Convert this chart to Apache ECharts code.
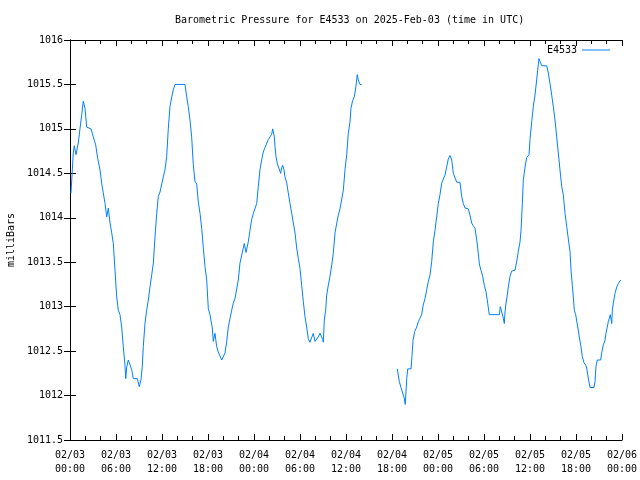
<!DOCTYPE html>
<html>
<head>
<meta charset="utf-8">
<script src="https://cdn.jsdelivr.net/npm/echarts@6/dist/echarts.min.js"></script>
<style>html,body{margin:0;padding:0;background:#fff}#c{width:640px;height:480px}</style>
</head>
<body>
<div id="c"></div>
<script>
// hours after 2025-02-03 00:00 UTC
const hours = [
0.13,0.43,0.56,0.78,1.08,1.30,1.53,1.73,1.96,2.18,2.74,3.04,3.35,3.61,3.91,4.13,4.34,4.57,4.79,5.00,
5.22,5.44,5.65,5.87,6.09,6.30,6.52,6.74,6.95,7.17,7.27,7.40,7.60,7.83,8.05,8.26,8.78,9.04,9.26,9.43,
9.56,9.78,10.00,10.21,10.43,10.66,10.87,11.09,11.31,11.52,11.74,11.96,12.17,12.39,12.61,12.82,13.04,13.27,13.47,13.70,
15.00,15.22,15.43,15.65,15.87,16.08,16.30,16.53,16.73,16.96,17.18,17.39,17.61,17.83,18.04,18.26,18.56,18.69,18.91,19.13,
19.34,19.57,19.79,20.00,20.22,20.44,20.65,20.87,21.09,21.30,21.52,21.74,21.95,22.17,22.40,22.60,22.73,22.96,23.26,23.48,
23.70,23.91,24.13,24.35,24.56,24.78,25.00,25.21,25.43,25.66,25.87,26.09,26.31,26.44,26.52,26.65,26.74,26.87,27.04,27.26,
27.48,27.61,27.74,27.91,28.04,28.27,28.47,28.70,28.92,29.13,29.35,29.57,29.78,30.00,30.22,30.43,30.65,30.87,31.08,31.30,
31.53,31.73,31.96,32.18,32.39,32.61,32.83,32.96,33.04,33.17,33.35,33.48,33.69,33.91,34.14,34.34,34.57,34.79,35.00,35.22,
35.44,35.65,35.87,36.09,36.30,36.52,36.65,36.87,37.08,37.27,37.47,37.60,37.83,38.05,
40.00,
42.69,42.95,43.17,43.40,43.60,43.73,43.92,44.05,44.48,44.61,44.74,44.96,45.22,45.43,45.65,45.87,46.08,46.30,46.53,46.73,
46.96,47.18,47.39,47.61,47.83,48.04,48.26,48.48,48.69,48.91,49.13,49.34,49.57,49.79,50.00,50.22,50.44,50.87,51.09,51.30,
51.52,51.95,52.17,52.40,52.60,52.83,53.05,53.26,53.39,53.61,53.83,54.04,54.26,54.48,54.69,56.00,56.13,56.31,56.52,56.65,
56.74,56.87,57.04,57.17,57.39,57.61,58.04,58.27,58.47,58.70,58.83,59.00,59.13,59.35,59.57,59.87,60.00,60.22,60.43,60.65,
60.87,61.00,61.17,61.30,61.53,62.18,62.39,62.61,62.83,63.04,63.26,63.48,63.69,63.91,64.14,64.34,64.57,64.79,65.00,65.22,
65.35,65.52,65.65,65.78,65.96,66.22,66.43,66.65,66.82,67.04,67.27,67.40,67.53,67.70,67.83,68.35,68.48,68.61,68.78,69.22,
69.35,69.56,69.78,69.91,70.08,70.21,70.34,70.47,70.66,70.74,70.87,71.09,71.31,71.52,71.74,71.87
];
const pressure = [
1014.28,1014.73,1014.81,1014.71,1014.84,1015.00,1015.16,1015.31,1015.23,1015.02,1015.00,1014.91,1014.82,1014.67,1014.54,1014.39,1014.28,1014.16,1014.01,1014.11,
1013.94,1013.83,1013.71,1013.41,1013.11,1012.96,1012.91,1012.77,1012.55,1012.34,1012.19,1012.32,1012.40,1012.38,1012.29,1012.19,1012.19,1012.10,1012.18,1012.33,
1012.55,1012.81,1012.96,1013.07,1013.22,1013.36,1013.49,1013.79,1014.05,1014.24,1014.29,1014.31,1014.46,1014.54,1014.69,1015.00,1015.25,1015.36,1015.44,1015.50,
1015.50,1015.36,1015.25,1015.10,1014.91,1014.60,1014.41,1014.38,1014.18,1014.05,1013.88,1013.66,1013.45,1013.30,1012.98,1012.91,1012.76,1012.61,1012.70,1012.55,
1012.49,1012.48,1012.40,1012.40,1012.48,1012.61,1012.77,1012.87,1012.96,1013.04,1013.09,1013.10,1013.30,1013.49,1013.51,1013.66,1013.71,1013.61,1013.73,1013.86,
1013.98,1014.05,1014.07,1014.16,1014.35,1014.54,1014.65,1014.74,1014.79,1014.81,1014.88,1014.91,1014.94,1015.00,1015.00,1014.91,1014.80,1014.69,1014.61,1014.59,
1014.50,1014.56,1014.59,1014.54,1014.46,1014.39,1014.28,1014.16,1014.05,1013.94,1013.83,1013.66,1013.54,1013.43,1013.24,1013.06,1012.89,1012.77,1012.64,1012.60,
1012.60,1012.70,1012.61,1012.61,1012.66,1012.70,1012.69,1012.63,1012.60,1012.85,1012.96,1013.13,1013.24,1013.34,1013.47,1013.60,1013.83,1013.94,1014.03,1014.10,
1014.10,1014.31,1014.54,1014.71,1014.95,1015.08,1015.23,1015.32,1015.36,1015.46,1015.61,1015.55,1015.50,1015.50,
null,
1012.30,1012.16,1012.09,1012.09,1011.97,1011.90,1012.19,1012.30,1012.30,1012.45,1012.62,1012.72,1012.77,1012.83,1012.87,1012.91,1013.02,1013.09,1013.19,1013.28,
1013.36,1013.51,1013.73,1013.86,1014.01,1014.16,1014.26,1014.39,1014.40,1014.48,1014.57,1014.66,1014.70,1014.65,1014.50,1014.50,1014.40,1014.40,1014.24,1014.16,
1014.11,1014.10,1014.03,1013.94,1013.91,1013.88,1013.75,1013.60,1013.48,1013.41,1013.34,1013.24,1013.17,1013.04,1012.91,1012.91,1013.00,1012.94,1012.87,1012.81,
1012.94,1013.04,1013.13,1013.22,1013.34,1013.40,1013.41,1013.51,1013.62,1013.73,1013.86,1014.16,1014.43,1014.57,1014.68,1014.71,1014.88,1015.08,1015.25,1015.38,
1015.55,1015.66,1015.79,1015.76,1015.71,1015.71,1015.63,1015.51,1015.38,1015.25,1015.10,1014.91,1014.73,1014.54,1014.35,1014.26,1014.05,1013.90,1013.76,1013.62,
1013.41,1013.24,1013.11,1012.96,1012.91,1012.89,1012.66,1012.55,1012.44,1012.37,1012.34,1012.31,1012.23,1012.15,1012.09,1012.09,1012.16,1012.33,1012.40,1012.40,
1012.48,1012.57,1012.62,1012.70,1012.77,1012.83,1012.87,1012.91,1012.81,1012.96,1013.04,1013.15,1013.22,1013.26,1013.29,1013.30
];
const xTickLabels = ['02/03\n00:00','02/03\n06:00','02/03\n12:00','02/03\n18:00','02/04\n00:00','02/04\n06:00','02/04\n12:00','02/04\n18:00','02/05\n00:00','02/05\n06:00','02/05\n12:00','02/05\n18:00','02/06\n00:00'];
const seriesName = 'E4533';
const titleText = 'Barometric Pressure for E4533 on 2025-Feb-03 (time in UTC)';
const yName = 'milliBars';

const data = hours.map((h, i) => [h, pressure[i] === null ? '-' : pressure[i]]);
const font = 'DejaVu Sans Mono';
const chart = echarts.init(document.getElementById('c'), null, {renderer: 'canvas'});
const xCommon = {
  type: 'value', min: 0, max: 72, interval: 6,
  axisLine: {show: true, lineStyle: {color: '#000', width: 1}},
  axisTick: {show: true, inside: true, length: 6, lineStyle: {color: '#000'}},
  minorTick: {show: true, splitNumber: 3, length: 4, lineStyle: {color: '#000'}},
  splitLine: {show: false}
};
const yCommon = {
  type: 'value', min: 1011.5, max: 1016, interval: 0.5,
  axisLine: {show: true, lineStyle: {color: '#000', width: 1}},
  axisTick: {show: true, inside: true, length: 6, lineStyle: {color: '#000'}},
  splitLine: {show: false}
};
chart.setOption({
  animation: false,
  backgroundColor: '#fff',
  title: {
    text: titleText, left: 170, top: 10,
    textStyle: {fontFamily: font, fontSize: 10, fontWeight: 'normal', color: '#000'}
  },
  legend: {
    data: [seriesName], right: 30, top: 45, padding: 0, align: 'right',
    icon: 'rect', itemWidth: 28, itemHeight: 1, itemGap: 0,
    textStyle: {fontFamily: font, fontSize: 10, color: '#000'}
  },
  grid: {left: 70, right: 18, top: 40, bottom: 40, containLabel: false, outerBoundsMode: 'none'},
  xAxis: [
    Object.assign({}, xCommon, {
      position: 'bottom',
      axisLabel: {
        show: true, margin: 8, lineHeight: 14, color: '#000', fontFamily: font, fontSize: 10,
        showMinLabel: true, showMaxLabel: true, hideOverlap: false,
        formatter: v => xTickLabels[Math.round(v / 6)]
      }
    }),
    Object.assign({}, xCommon, {position: 'top', axisLabel: {show: false}})
  ],
  yAxis: [
    Object.assign({}, yCommon, {
      position: 'left',
      name: yName, nameLocation: 'middle', nameRotate: 90, nameGap: 53,
      nameTextStyle: {fontFamily: font, fontSize: 10, color: '#000'},
      axisLabel: {show: true, margin: 7, color: '#000', fontFamily: font, fontSize: 10, showMinLabel: true, showMaxLabel: true,
        formatter: v => String(Math.round(v * 10) / 10)}
    }),
    Object.assign({}, yCommon, {position: 'right', axisLabel: {show: false}})
  ],
  series: [{
    name: seriesName, type: 'line', data: data, xAxisIndex: 0, yAxisIndex: 0,
    symbol: 'none', showSymbol: false, connectNulls: false,
    lineStyle: {color: '#0080ff', width: 1}, itemStyle: {color: '#0080ff'}
  }]
});
</script>
</body>
</html>
